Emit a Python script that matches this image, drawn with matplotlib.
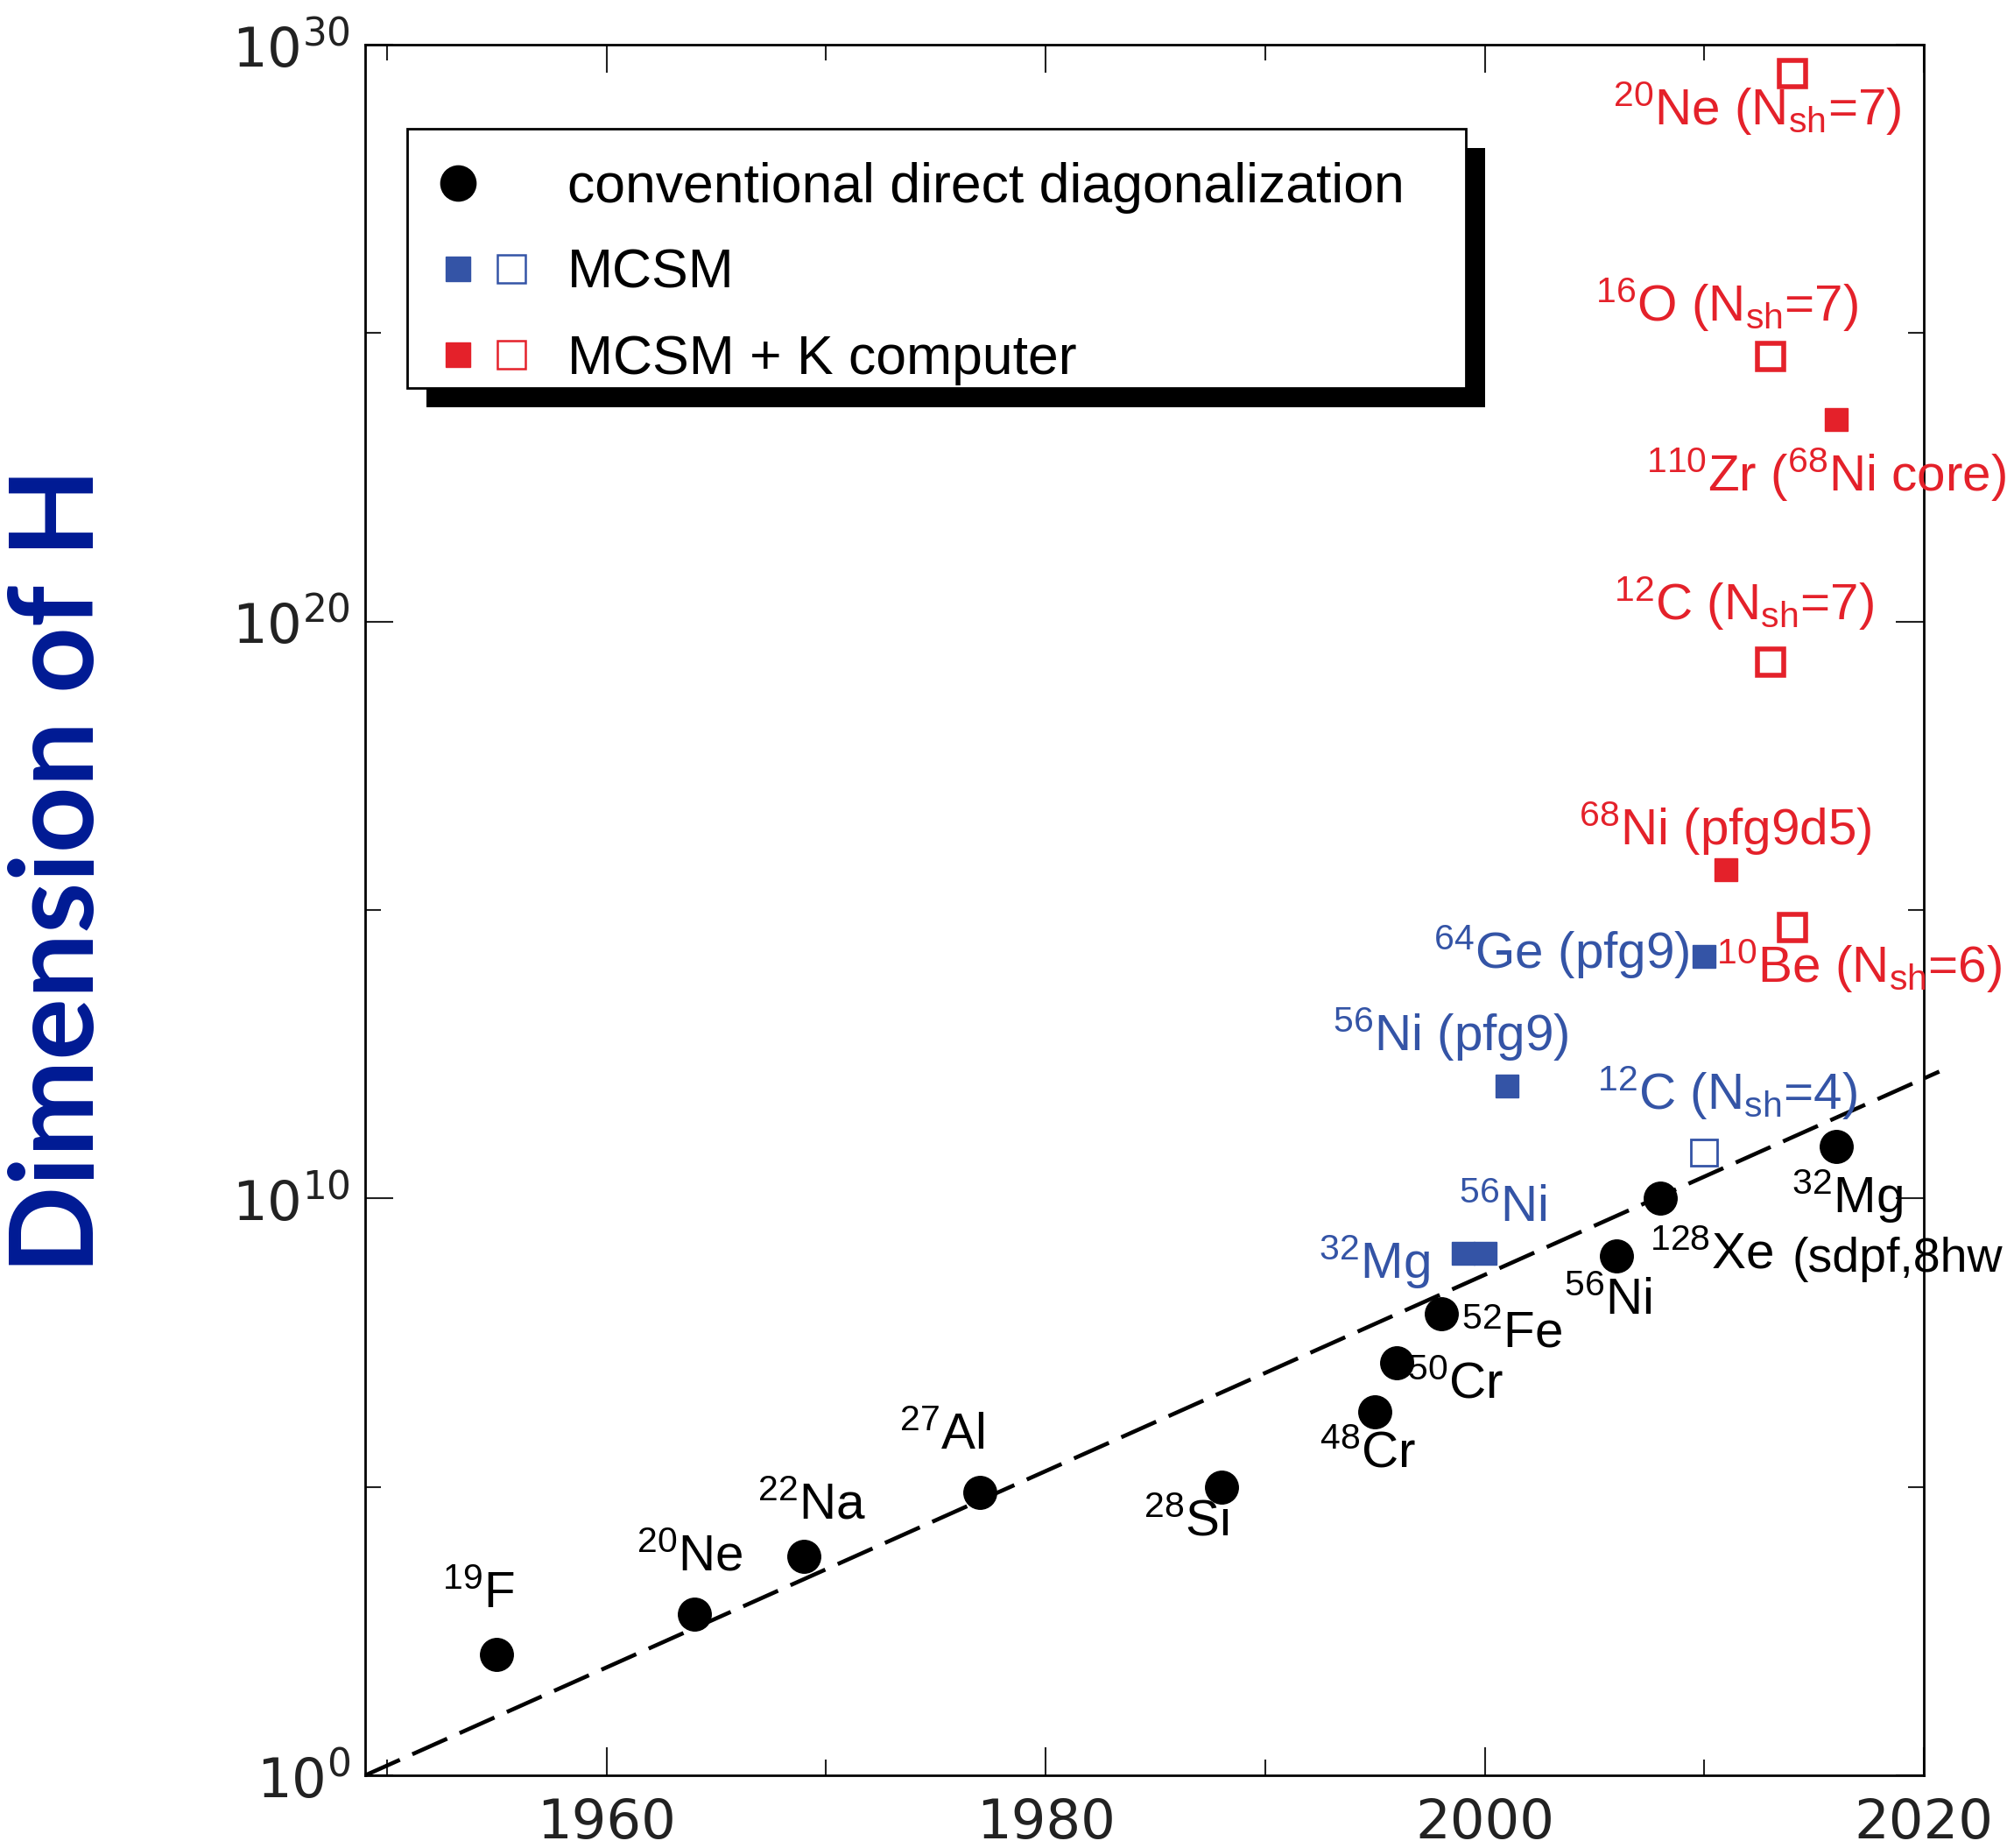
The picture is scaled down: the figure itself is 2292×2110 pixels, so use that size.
import matplotlib
matplotlib.use("Agg")
import matplotlib.pyplot as plt
from matplotlib.lines import Line2D
from matplotlib.patches import Rectangle
from matplotlib.legend_handler import HandlerTuple
from matplotlib.ticker import FixedLocator, NullFormatter, LogFormatterSciNotation

plt.rcParams['font.family'] = ['Liberation Sans', 'DejaVu Sans']
plt.rcParams['mathtext.fontset'] = 'custom'
plt.rcParams['mathtext.rm'] = 'Liberation Sans'
plt.rcParams['mathtext.it'] = 'Liberation Sans:italic'

# --- donnees (annee, log10 de la dimension) ---
conv_year = [1955, 1964, 1969, 1977, 1988, 1995, 1996, 1998, 2006, 2008, 2016]
conv_log = [2.1, 2.8, 3.8, 4.9, 5.0, 6.3, 7.15, 8.0, 9.0, 10.0, 10.9]
conv_label = [r"$^{19}$F", r"$^{20}$Ne", r"$^{22}$Na", r"$^{27}$Al", r"$^{28}$Si",
              r"$^{48}$Cr", r"$^{50}$Cr", r"$^{52}$Fe", r"$^{56}$Ni", r"$^{128}$Xe",
              r"$^{32}$Mg"]

mcsm_year = [1999, 2000, 2001, 2010]
mcsm_log = [9.05, 9.05, 11.95, 14.2]
mcsm_label = [r"$^{32}$Mg", r"$^{56}$Ni", r"$^{56}$Ni (pfg9)", r"$^{64}$Ge (pfg9)"]

mcsm_open_year = [2010]
mcsm_open_log = [10.8]
mcsm_open_label = [r"$^{12}$C (N$_{\rm sh}$=4)"]

k_year = [2011, 2016]
k_log = [15.7, 23.5]
k_label = [r"$^{68}$Ni (pfg9d5)", r"$^{110}$Zr ($^{68}$Ni core)"]

k_open_year = [2014, 2013, 2013, 2014]
k_open_log = [29.5, 24.6, 19.3, 14.7]
k_open_label = [r"$^{20}$Ne (N$_{\rm sh}$=7)", r"$^{16}$O (N$_{\rm sh}$=7)",
                r"$^{12}$C (N$_{\rm sh}$=7)", r"$^{10}$Be (N$_{\rm sh}$=6)"]

trend_year = [1949, 2020.7]
trend_log = [0.0, 12.2]

extra_note = "(sdpf,8hw"

# decalage des etiquettes (points)
conv_off = [(-15, 49), (-4, 46), (6, 41), (-31, 46), (-29, -29), (-6, -35),
            (48, -18), (58, -17), (-7, -37), (42, -47), (9, -41)]
mcsm_off = [(-73, -7), (15, 37), (-46, 42), (-12, 3)]
mcsm_open_off = [(19, 49)]
k_off = [(-1, 34), (-8, -45)]
k_open_off = [(-29, -29), (-36, 42), (-22, 48), (55, -32)]

BLUE = '#3454a6'
RED = '#e4212a'

fig = plt.figure(figsize=(22.92, 21.10), dpi=100)
ax = fig.add_axes([0.1819, 0.0393, 0.7767, 0.9365])

p = lambda l: [10 ** v for v in l]

ax.plot(trend_year, p(trend_log), color='black', lw=3.3,
        linestyle=(0, (9.5, 3.4)), clip_on=False, zorder=2)
ax.plot(conv_year, p(conv_log), 'o', color='black', ms=27, zorder=3)
ax.plot(mcsm_year, p(mcsm_log), 's', color=BLUE, ms=19, zorder=3)
ax.plot(mcsm_open_year, p(mcsm_open_log), 's', mfc='none', mec=BLUE, mew=2, ms=21, zorder=3)
ax.plot(k_year, p(k_log), 's', color=RED, ms=19, zorder=3)
ax.plot(k_open_year, p(k_open_log), 's', mfc='none', mec=RED, mew=4, ms=22, zorder=3)


def etiquettes(xs, ys, labels, offs, color, ha='center'):
    for x, y, lab, off in zip(xs, ys, labels, offs):
        ax.annotate(lab, (x, 10 ** y), xytext=off, textcoords='offset points',
                    ha=ha, va='center', fontsize=42, color=color, zorder=4)


etiquettes(conv_year, conv_log, conv_label, conv_off, 'black')
etiquettes(mcsm_year[:3], mcsm_log[:3], mcsm_label[:3], mcsm_off[:3], BLUE)
etiquettes(mcsm_year[3:], mcsm_log[3:], mcsm_label[3:], mcsm_off[3:], BLUE, ha='right')
etiquettes(mcsm_open_year, mcsm_open_log, mcsm_open_label, mcsm_open_off, BLUE)
etiquettes(k_year, k_log, k_label, k_off, RED)
etiquettes(k_open_year, k_open_log, k_open_label, k_open_off, RED)
ax.annotate(extra_note, (conv_year[-1], 10 ** conv_log[-1]), xytext=(-36, -93),
            textcoords='offset points', ha='left', va='center', fontsize=40,
            color='black', annotation_clip=False)

ax.set_xlim(1949, 2020)
ax.set_yscale('log')
ax.set_ylim(1, 1e30)
ax.xaxis.set_major_locator(FixedLocator([1960, 1980, 2000, 2020]))
ax.xaxis.set_minor_locator(FixedLocator([1950, 1970, 1990, 2010]))
ax.yaxis.set_major_locator(FixedLocator([1, 1e10, 1e20, 1e30]))
ax.yaxis.set_minor_locator(FixedLocator([1e5, 1e15, 1e25]))
ax.yaxis.set_major_formatter(LogFormatterSciNotation())
ax.yaxis.set_minor_formatter(NullFormatter())
ax.tick_params(which='both', direction='in', top=True, right=True, width=1.5,
               labelsize=45, labelfontfamily='DejaVu Sans', colors='#222222')
ax.tick_params(which='major', length=23)
ax.tick_params(which='minor', length=13)
ax.tick_params(axis='x', pad=18)
ax.tick_params(axis='y', pad=12)
for s in ax.spines.values():
    s.set_linewidth(2)

# legende (cadre et ombre dessines a la main)
blank = Line2D([], [], linestyle='none')
h1 = (Line2D([], [], marker='o', color='black', ms=29, linestyle='none'), blank)
h2 = (Line2D([], [], marker='s', color=BLUE, ms=20, linestyle='none'),
      Line2D([], [], marker='s', mfc='none', mec=BLUE, mew=1.8, ms=23, linestyle='none'))
h3 = (Line2D([], [], marker='s', color=RED, ms=20, linestyle='none'),
      Line2D([], [], marker='s', mfc='none', mec=RED, mew=1.8, ms=23, linestyle='none'))
leg = ax.legend([h1, h2, h3],
                ["conventional direct diagonalization", "MCSM", "MCSM + K computer"],
                handler_map={tuple: HandlerTuple(ndivide=2, pad=0)},
                loc='upper left', bbox_to_anchor=(0.027, 0.9464, 0.679, 0), mode='expand',
                borderaxespad=0, frameon=False,
                fontsize=45, borderpad=0.45, handlelength=1.93, handletextpad=0.55,
                labelspacing=0.62)

fig.text(0.030, 0.529, "Dimension of H", rotation=90, ha='center', va='center',
         fontsize=95, fontweight='bold', color='#001a94', family='Lato')

fig.canvas.draw()
bb = leg.get_window_extent().transformed(ax.transAxes.inverted())
cadre_haut, cadre_bas = 0.9514, 0.8016
dx = 22 / ax.bbox.width
dy = 22 / ax.bbox.height
ax.add_patch(Rectangle((bb.x0 + dx, cadre_bas - dy), bb.width, cadre_haut - cadre_bas,
                       transform=ax.transAxes, facecolor='black', edgecolor='none',
                       zorder=4.5, clip_on=False))
ax.add_patch(Rectangle((bb.x0, cadre_bas), bb.width, cadre_haut - cadre_bas,
                       transform=ax.transAxes, facecolor='white', edgecolor='black',
                       lw=2, zorder=4.8, clip_on=False))

plt.savefig("out.png", dpi=100)
